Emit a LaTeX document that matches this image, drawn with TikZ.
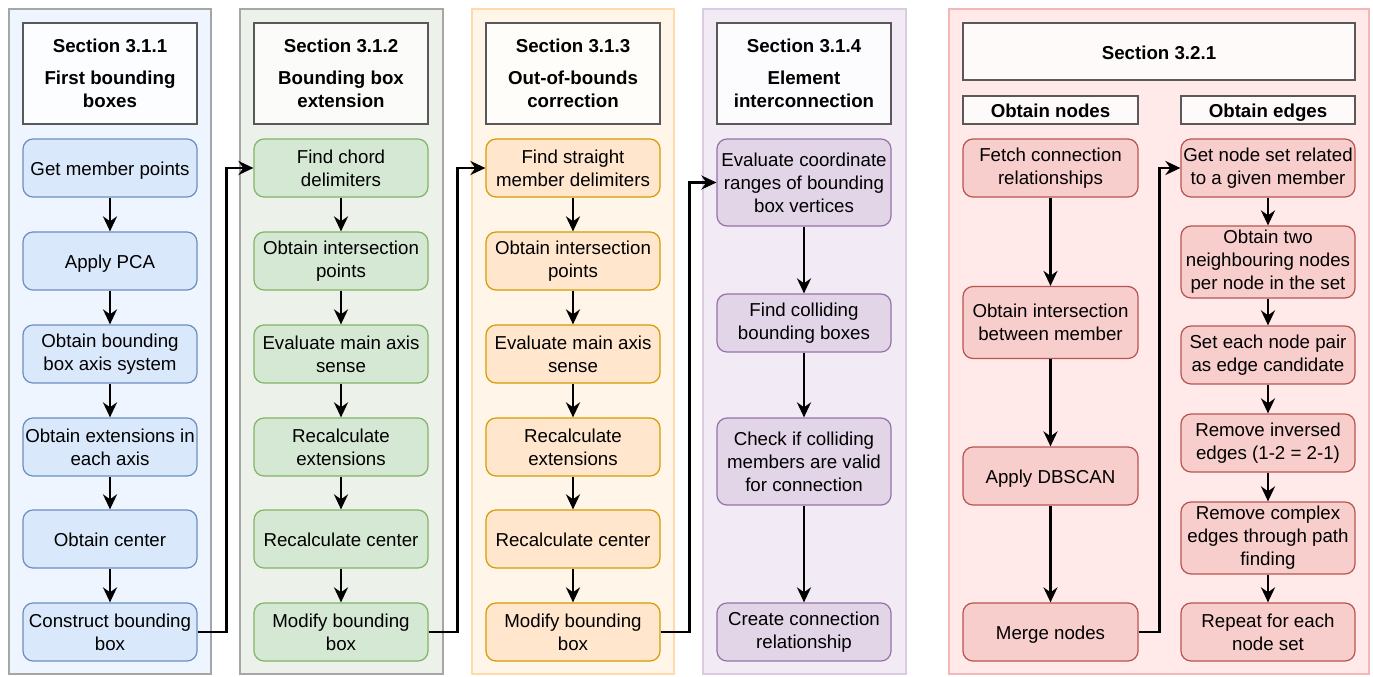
\documentclass[tikz,border=0pt]{standalone}
\usepackage{fontspec}
\setmainfont{Liberation Sans}
\usetikzlibrary{arrows.meta,positioning}
\definecolor{bluefill}{HTML}{DAE8FC}\definecolor{blueline}{HTML}{6C8EBF}\definecolor{bluebg}{HTML}{EEF5FE}
\definecolor{greenfill}{HTML}{D5E8D4}\definecolor{greenline}{HTML}{82B366}\definecolor{greenbg}{HTML}{ECF2EA}
\definecolor{orangefill}{HTML}{FFE6CC}\definecolor{orangeline}{HTML}{D79B00}\definecolor{orangebg}{HTML}{FFF5E8}
\definecolor{purplefill}{HTML}{E1D5E7}\definecolor{purpleline}{HTML}{9673A6}\definecolor{purplebg}{HTML}{F2EBF5}
\definecolor{redfill}{HTML}{F8CECC}\definecolor{redline}{HTML}{B85450}\definecolor{redbg}{HTML}{FFEAE9}
\definecolor{panelgray}{HTML}{A6A6A6}\definecolor{orangeedge}{HTML}{FFDAAA}
\definecolor{purpleedge}{HTML}{DACAE2}\definecolor{rededge}{HTML}{F2B8B5}
\definecolor{headline}{HTML}{595959}
\tikzset{
  stepbox/.style={draw, rounded corners=5pt, minimum width=87pt, minimum height=29pt,
    align=center, inner sep=0pt, line width=0.6pt, font=\fontsize{9.35}{11.5}\selectfont},
  bluestep/.style={stepbox, fill=bluefill, draw=blueline},
  greenstep/.style={stepbox, fill=greenfill, draw=greenline},
  orangestep/.style={stepbox, fill=orangefill, draw=orangeline},
  purplestep/.style={stepbox, fill=purplefill, draw=purpleline},
  redstep/.style={stepbox, fill=redfill, draw=redline},
  oneline/.style={text height=7.8pt, text depth=0pt},
  headbox/.style={draw=headline, fill=white, fill opacity=0.8, text opacity=1, line width=0.6pt,
    align=center, inner sep=0pt, font=\bfseries\fontsize{9.35}{11.5}\selectfont},
  panel/.style={line width=0.6pt},
  flow/.style={line width=1.3pt, -{Stealth[length=7.5pt,width=7pt]}}
}
\begin{document}
\begin{tikzpicture}[x=0.5pt,y=-0.5pt]
\useasboundingbox (0,0) rectangle (1373,676);
% section panels
\draw[panel,draw=panelgray,fill=bluebg] (9,9) rectangle (211,674);
\draw[panel,draw=panelgray,fill=greenbg] (240,9) rectangle (443,674);
\draw[panel,draw=orangeedge,fill=orangebg] (472,9) rectangle (674,674);
\draw[panel,draw=purpleedge,fill=purplebg] (703,9) rectangle (906,674);
\draw[panel,draw=rededge,fill=redbg] (949,9) rectangle (1369,674);

% headers
\node[headbox,minimum width=87pt,minimum height=50.5pt] (h1) at (110,73.5) {Section 3.1.1\\[4.5pt]First bounding\\boxes};
\node[headbox,minimum width=87pt,minimum height=50.5pt] (h2) at (341,73.5) {Section 3.1.2\\[4.5pt]Bounding box\\extension};
\node[headbox,minimum width=87pt,minimum height=50.5pt] (h3) at (573,73.5) {Section 3.1.3\\[4.5pt]Out-of-bounds\\correction};
\node[headbox,minimum width=87pt,minimum height=50.5pt] (h4) at (804,73.5) {Section 3.1.4\\[4.5pt]Element\\interconnection};
\node[headbox,oneline,minimum width=196pt,minimum height=28.5pt] (h5) at (1159,51.5) {Section 3.2.1};
\node[headbox,oneline,minimum width=87.5pt,minimum height=14pt] (hn) at (1050.5,110) {Obtain nodes};
\node[headbox,oneline,minimum width=87pt,minimum height=14pt] (he) at (1268,110) {Obtain edges};

% first bounding boxes
\node[bluestep,oneline] (a1) at (110,168) {Get member points};
\node[bluestep,oneline] (a2) at (110,261) {Apply PCA};
\node[bluestep] (a3) at (110,354) {Obtain bounding\\box axis system};
\node[bluestep] (a4) at (110,447) {Obtain extensions in\\each axis};
\node[bluestep,oneline] (a5) at (110,539) {Obtain center};
\node[bluestep] (a6) at (110,632) {Construct bounding\\box};

% bounding box extension
\node[greenstep] (b1) at (341,168) {Find chord\\delimiters};
\node[greenstep] (b2) at (341,261) {Obtain intersection\\points};
\node[greenstep] (b3) at (341,354) {Evaluate main axis\\sense};
\node[greenstep] (b4) at (341,447) {Recalculate\\extensions};
\node[greenstep,oneline] (b5) at (341,539) {Recalculate center};
\node[greenstep] (b6) at (341,632) {Modify bounding\\box};

% out-of-bounds correction
\node[orangestep] (c1) at (573,168) {Find straight\\member delimiters};
\node[orangestep] (c2) at (573,261) {Obtain intersection\\points};
\node[orangestep] (c3) at (573,354) {Evaluate main axis\\sense};
\node[orangestep] (c4) at (573,447) {Recalculate\\extensions};
\node[orangestep,oneline] (c5) at (573,539) {Recalculate center};
\node[orangestep] (c6) at (573,632) {Modify bounding\\box};

% element interconnection
\node[purplestep,minimum height=43.5pt] (d1) at (804,182.5) {Evaluate coordinate\\ranges of bounding\\box vertices};
\node[purplestep] (d2) at (804,323) {Find colliding\\bounding boxes};
\node[purplestep,minimum height=43.5pt] (d3) at (804,461.5) {Check if colliding\\members are valid\\for connection};
\node[purplestep] (d4) at (804,632) {Create connection\\relationship};

% obtain nodes
\node[redstep,minimum width=87.5pt] (n1) at (1050.5,168) {Fetch connection\\relationships};
\node[redstep,minimum width=87.5pt,minimum height=36pt] (n2) at (1050.5,322.5) {Obtain intersection\\between member};
\node[redstep,oneline,minimum width=87.5pt] (n3) at (1050.5,476) {Apply DBSCAN};
\node[redstep,oneline,minimum width=87.5pt] (n4) at (1050.5,632) {Merge nodes};

% obtain edges
\node[redstep] (e1) at (1268,168) {Get node set related\\to a given member};
\node[redstep,minimum height=36pt] (e2) at (1268,262) {Obtain two\\neighbouring nodes\\per node in the set};
\node[redstep] (e3) at (1268,355) {Set each node pair\\as edge candidate};
\node[redstep] (e4) at (1268,443) {Remove inversed\\edges (1-2 = 2-1)};
\node[redstep,minimum height=36pt] (e5) at (1268,538) {Remove complex\\edges through path\\finding};
\node[redstep] (e6) at (1268,632) {Repeat for each\\node set};

% arrows
\foreach \i/\j in {1/2,2/3,3/4,4/5,5/6}{
  \draw[flow] (a\i) -- (a\j);
  \draw[flow] (b\i) -- (b\j);
  \draw[flow] (c\i) -- (c\j);
  \draw[flow] (e\i) -- (e\j);
}
\foreach \i/\j in {1/2,2/3,3/4}{
  \draw[flow] (d\i) -- (d\j);
  \draw[flow] (n\i) -- (n\j);
}
\draw[flow] (a6.east) -- ++(29,0) |- (b1.west);
\draw[flow] (b6.east) -- ++(29,0) |- (c1.west);
\draw[flow] (c6.east) -- ++(29,0) |- (d1.west);
\draw[flow] (n4.east) -- ++(21,0) |- (e1.west);
\end{tikzpicture}
\end{document}
